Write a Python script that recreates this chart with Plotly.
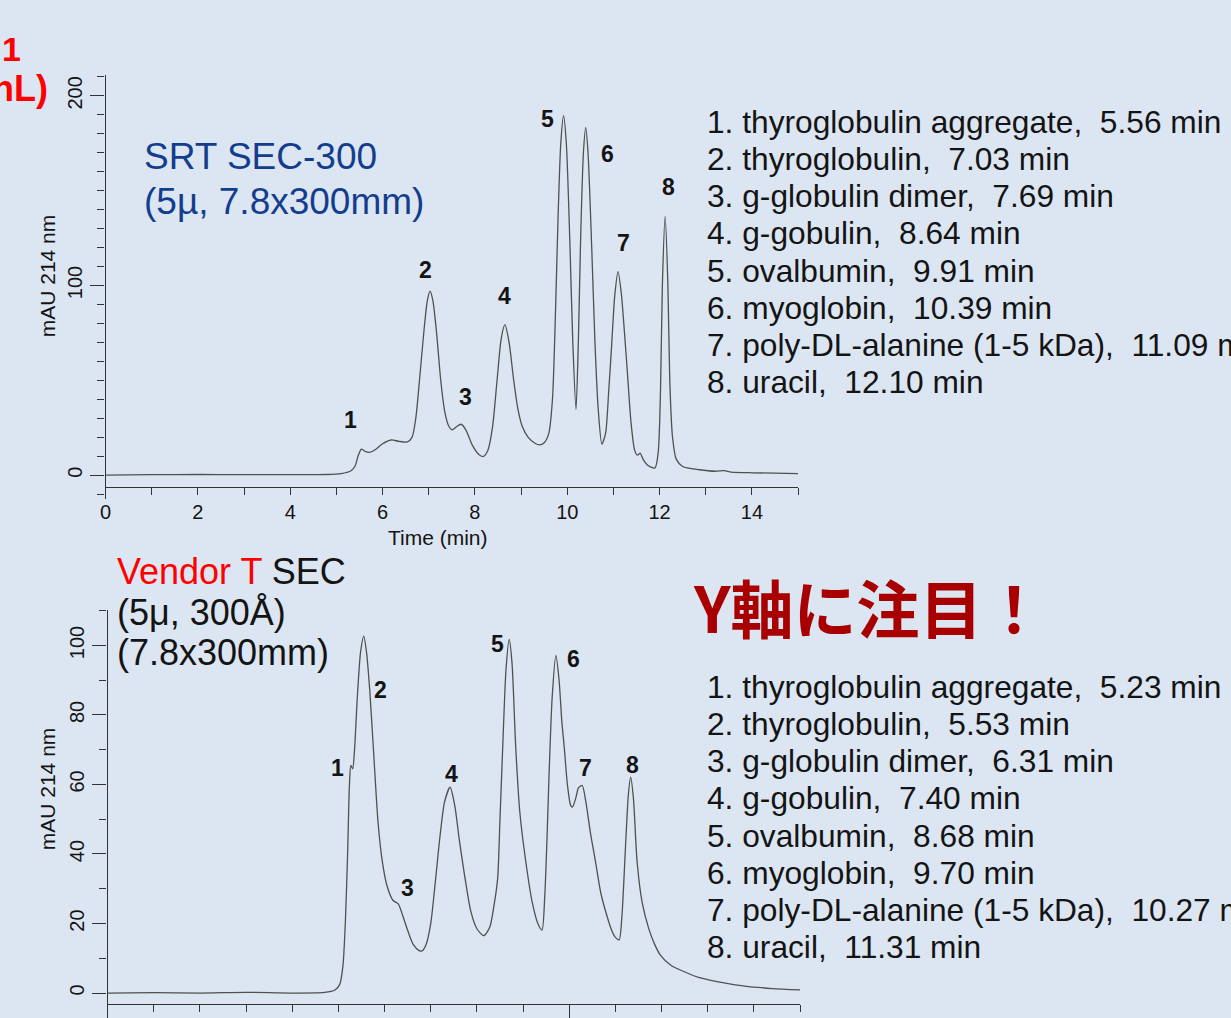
import plotly.graph_objects as go

W, H = 1231, 1018
BG = "#dce6f2"

# ---------------- data ----------------
srt_time = [0.0, 1.0, 2.0, 3.0, 4.0, 4.8, 5.1, 5.3, 5.4, 5.47, 5.54, 5.62, 5.72, 5.85, 6.0,
            6.19, 6.35, 6.54, 6.64, 6.72, 6.8, 6.9, 6.97, 7.03, 7.09, 7.17, 7.26, 7.35, 7.43,
            7.51, 7.6, 7.7, 7.8, 7.95, 8.08, 8.18, 8.28, 8.38, 8.48, 8.57, 8.65, 8.74, 8.84,
            8.93, 9.02, 9.15, 9.3, 9.4, 9.5, 9.6, 9.68, 9.75, 9.8, 9.86, 9.92, 9.98, 10.06,
            10.12, 10.19, 10.24, 10.29, 10.35, 10.4, 10.45, 10.53, 10.6, 10.67, 10.75, 10.83,
            10.9, 10.96, 11.03, 11.1, 11.17, 11.24, 11.3, 11.38, 11.46, 11.52, 11.58, 11.65,
            11.75, 11.9, 11.97, 12.02, 12.06, 12.12, 12.18, 12.22, 12.28, 12.36, 12.5, 12.86,
            13.2, 13.4, 13.55, 14.0, 15.0]
srt_mau = [0.0, 0.2, 0.3, 0.2, 0.2, 0.3, 0.8, 2.0, 4.5, 10.0, 13.7, 12.5, 12.0, 13.5, 16.5,
           18.5, 17.8, 17.5, 20.0, 30.0, 50.0, 77.0, 92.0, 97.0, 92.0, 75.0, 50.0, 33.0, 26.0,
           23.8, 25.5, 26.8, 24.0, 15.5, 11.0, 9.8, 13.0, 25.0, 50.0, 72.0, 79.3, 70.0, 50.0,
           35.0, 26.0, 20.0, 16.8, 15.9, 17.0, 22.0, 40.0, 90.0, 135.0, 175.0, 189.5, 175.0, 120.0,
           70.0, 34.6, 70.0, 125.0, 170.0, 183.4, 170.0, 120.0, 70.0, 35.0, 16.3, 22.0,
           45.0, 68.0, 95.0, 107.3, 96.0, 75.0, 55.0, 28.0, 13.0, 10.5, 11.5, 8.0,
           5.0, 3.8, 12.0, 45.0, 100.0, 136.5, 100.0, 50.0, 20.0, 8.4, 4.5, 2.8,
           2.0, 2.3, 1.6, 1.2, 0.8]

vt_time = [0.0, 1.0, 2.0, 3.0, 4.0, 4.7, 4.92, 5.03, 5.1, 5.15, 5.2, 5.24, 5.27, 5.31, 5.35,
           5.41, 5.48, 5.55, 5.61, 5.68, 5.76, 5.86, 5.95, 6.05, 6.18, 6.3, 6.4, 6.51, 6.62,
           6.75, 6.81, 6.9, 7.0, 7.1, 7.2, 7.3, 7.42, 7.52, 7.62, 7.72, 7.87, 8.0, 8.15, 8.28,
           8.38, 8.45, 8.5, 8.56, 8.63, 8.7, 8.76, 8.84, 8.93, 9.06, 9.2, 9.32, 9.41, 9.47,
           9.52, 9.56, 9.63, 9.71, 9.78, 9.84, 9.89, 9.96, 10.03, 10.07, 10.14, 10.2, 10.28,
           10.36, 10.46, 10.57, 10.68, 10.79, 10.92, 11.0, 11.08, 11.14, 11.22, 11.28, 11.33,
           11.39, 11.47, 11.58, 11.72, 11.85, 11.97, 12.2, 12.48, 12.8, 13.2, 13.8, 14.4, 15.0]
vt_mau = [0.0, 0.1, 0.0, 0.2, 0.0, 0.2, 0.8, 2.5, 8.0, 20.0, 40.0, 60.0, 65.5, 64.5, 70.0,
          85.0, 98.0, 102.7, 98.0, 87.0, 70.0, 49.0, 38.0, 31.0, 26.7, 25.6, 22.0, 17.7, 14.0,
          12.2, 12.1, 14.0, 20.0, 32.0, 45.0, 55.0, 59.2, 54.0, 44.0, 35.0, 23.4, 18.5, 16.5, 19.0,
          26.0, 33.0, 50.0, 71.0, 93.0, 101.7, 95.0, 71.0, 52.0, 37.7, 26.0, 20.0, 18.1, 28.0,
          45.0, 61.6, 85.0, 97.1, 90.0, 78.0, 71.0, 60.0, 54.0, 53.5, 56.0, 59.0, 59.7,
          55.0, 46.0, 37.7, 29.0, 23.4, 18.0, 16.0, 15.3, 22.0, 42.5, 57.0, 62.1,
          56.0, 37.7, 26.0, 18.6, 14.0, 11.0, 8.0, 6.2, 4.5, 3.3, 2.0, 1.3, 0.9]

peak_ids = ["1", "2", "3", "4", "5", "6", "7", "8"]
srt_label_time = [5.30, 6.94, 7.80, 8.64, 9.57, 10.88, 11.21, 12.20]
srt_label_mau = [28.9, 108.4, 41.1, 94.2, 187.9, 169.5, 122.6, 152.1]
vt_label_time = [4.99, 5.92, 6.49, 7.46, 8.45, 10.09, 10.36, 11.38]
vt_label_mau = [64.8, 87.1, 30.1, 62.9, 100.5, 96.2, 64.6, 65.7]

compounds = ["thyroglobulin aggregate", "thyroglobulin", "g-globulin dimer", "g-gobulin",
             "ovalbumin", "myoglobin", "poly-DL-alanine (1-5 kDa)", "uracil"]
srt_rt = ["5.56", "7.03", "7.69", "8.64", "9.91", "10.39", "11.09", "12.10"]
vt_rt = ["5.23", "5.53", "6.31", "7.40", "8.68", "9.70", "10.27", "11.31"]

top_xticks = [0, 2, 4, 6, 8, 10, 12, 14]
top_yticks = [0, 100, 200]
bot_yticks = [0, 20, 40, 60, 80, 100]

# ---------------- helpers ----------------
def px(x):
    return x / W

def py(y):
    return 1 - y / H

FONT = "Liberation Sans, Arial, sans-serif"
LINE = "#505050"
AX = "#333333"
TXT = "#141414"

fig = go.Figure()
fig.add_trace(go.Scatter(x=srt_time, y=srt_mau, mode="lines", xaxis="x", yaxis="y",
                         line=dict(color=LINE, width=1.3, shape="spline", smoothing=0.7),
                         showlegend=False, hoverinfo="skip"))
fig.add_trace(go.Scatter(x=vt_time, y=vt_mau, mode="lines", xaxis="x2", yaxis="y2",
                         line=dict(color=LINE, width=1.3, shape="spline", smoothing=0.7),
                         showlegend=False, hoverinfo="skip"))

top_y0 = 476.0
top_s = 1.9
bot_y0 = 995.0
bot_s = 3.483

fig.update_layout(
    width=W, height=H,
    margin=dict(l=0, r=0, t=0, b=0),
    paper_bgcolor=BG, plot_bgcolor=BG,
    font=dict(family=FONT, color=TXT),
    xaxis=dict(domain=[px(100), px(796)], range=[0, 15], anchor="free", position=py(488),
               showline=True, linecolor=AX, linewidth=1.3, showgrid=False, zeroline=False,
               tickmode="array", tickvals=top_xticks, ticktext=[str(v) for v in top_xticks],
               ticks="outside", ticklen=7, tickwidth=1.2, tickcolor=AX,
               minor=dict(dtick=1, ticks="outside", ticklen=7, tickwidth=1.2, tickcolor=AX),
               tickfont=dict(size=20, color=TXT)),
    yaxis=dict(domain=[py(500), py(75)],
               range=[(top_y0 - 500) / top_s, (top_y0 - 75) / top_s],
               anchor="x", showline=True, linecolor=AX, linewidth=1.3, showgrid=False,
               zeroline=False, tickmode="array", tickvals=top_yticks,
               ticks="outside", ticklen=14, tickwidth=1.2, tickcolor=AX,
               minor=dict(dtick=10, ticks="outside", ticklen=7, tickwidth=1.2, tickcolor=AX),
               tickangle=-90, tickfont=dict(size=20, color=TXT)),
    xaxis2=dict(domain=[px(102), px(798)], range=[0, 15], anchor="free", position=py(1006),
                showline=True, linecolor=AX, linewidth=1.3, showgrid=False, zeroline=False,
                tickmode="array", tickvals=[0, 10], showticklabels=False,
                ticks="outside", ticklen=14, tickwidth=1.2, tickcolor=AX,
                minor=dict(dtick=1, ticks="outside", ticklen=7, tickwidth=1.2, tickcolor=AX)),
    yaxis2=dict(domain=[0, py(611)],
                range=[(bot_y0 - H) / bot_s, (bot_y0 - 611) / bot_s],
                anchor="x2", showline=True, linecolor=AX, linewidth=1.3, showgrid=False,
                zeroline=False, tickmode="array", tickvals=bot_yticks,
                ticks="outside", ticklen=14, tickwidth=1.2, tickcolor=AX,
                minor=dict(dtick=10, ticks="outside", ticklen=7, tickwidth=1.2, tickcolor=AX),
                tickangle=-90, tickfont=dict(size=20, color=TXT)),
)

ann = []

def text(x, y, s, size, color=TXT, xanchor="left", fam=FONT, angle=0):
    ann.append(dict(x=px(x), y=py(y), xref="paper", yref="paper", text=s, showarrow=False,
                    xanchor=xanchor, yanchor="middle", textangle=angle,
                    font=dict(size=size, color=color, family=fam)))

# axis titles
text(434, 539, "Time (min)", 21, xanchor="center")
text(42, 276, "mAU 214 nm", 21, xanchor="center", angle=-90)
text(42, 790, "mAU 214 nm", 21, xanchor="center", angle=-90)

# cut-off red text at the top-left
text(17, 49, "<b>1</b>", 34, color="#ff0000", xanchor="right")
text(44, 89, "<b>nL)</b>", 36, color="#ff0000", xanchor="right")

# column captions
BLUE = "#133d8d"
text(137, 157, "SRT SEC-300", 37, color=BLUE)
text(137, 202, "(5\u00b5, 7.8x300mm)", 37, color=BLUE)
text(110, 573, "<span style='color:#ff0000'>Vendor T</span> SEC", 36)
text(110, 614, "(5\u03bc, 300\u00c5)", 36)
text(110, 654, "(7.8x300mm)", 36)

# note
text(688, 607, "<b>Y軸に注目！</b>", 63, color="#a80000",
     fam="Noto Sans CJK JP, sans-serif")

# compound lists
for i, (c, r) in enumerate(zip(compounds, srt_rt)):
    text(702, 122 + 37.3 * i, f"{i + 1}. {c},&nbsp; {r} min", 31.7)
for i, (c, r) in enumerate(zip(compounds, vt_rt)):
    text(702, 688 + 37.3 * i, f"{i + 1}. {c},&nbsp; {r} min", 31.7)

# peak labels in data coordinates
for lab, t, v in zip(peak_ids, srt_label_time, srt_label_mau):
    ann.append(dict(x=t, y=v, xref="x", yref="y", text=f"<b>{lab}</b>", showarrow=False,
                    font=dict(size=23, color=TXT, family=FONT)))
for lab, t, v in zip(peak_ids, vt_label_time, vt_label_mau):
    ann.append(dict(x=t, y=v, xref="x2", yref="y2", text=f"<b>{lab}</b>", showarrow=False,
                    font=dict(size=23, color=TXT, family=FONT)))

fig.update_layout(annotations=ann)
fig.write_html("out.html", config={"displayModeBar": False},
               post_script="document.body.style.margin='0';document.body.style.padding='0';"
                           "document.body.style.overflow='hidden';")
